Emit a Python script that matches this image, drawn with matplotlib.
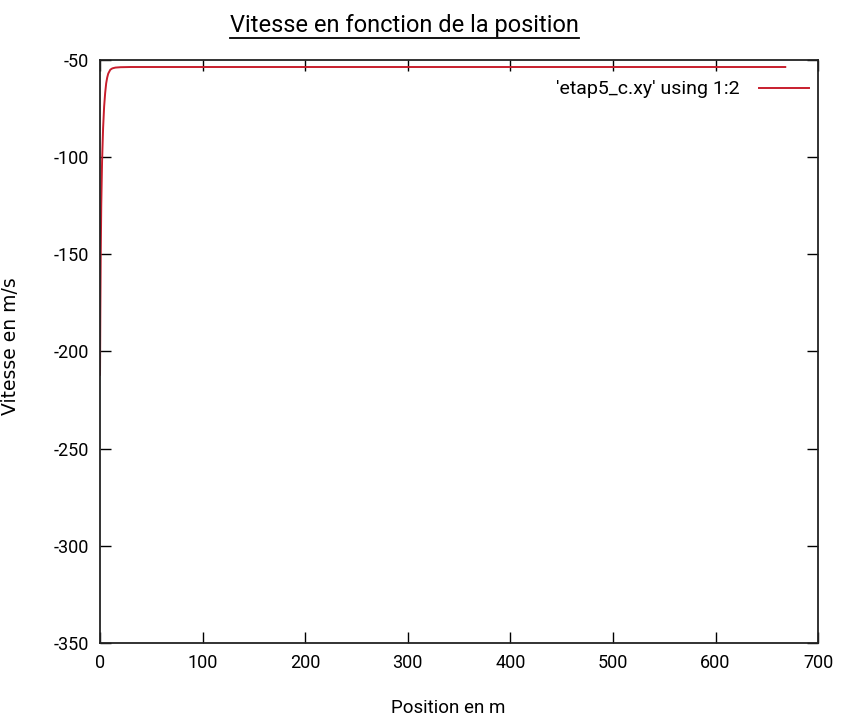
import matplotlib
matplotlib.use("Agg")
import matplotlib.pyplot as plt

plt.rcParams['axes.unicode_minus'] = False

# position (m) and speed (m/s)
position = [0, 0.3, 0.7, 1.2, 2, 3, 4, 5, 6, 7, 8, 10, 12, 15, 20, 30, 60, 200, 400, 668]
vitesse = [-212, -180, -150, -125, -102, -85, -74, -67, -62, -59, -57, -55, -54.3, -53.9, -53.7, -53.6, -53.6, -53.6, -53.6, -53.6]

xticks = [0, 100, 200, 300, 400, 500, 600, 700]
yticks = [-350, -300, -250, -200, -150, -100, -50]

narrow = ['Roboto', 'DejaVu Sans']

fig = plt.figure(figsize=(8.52, 7.23), dpi=100)
ax = fig.add_axes([0.1174, 0.1107, 0.8428, 0.8063])

ax.plot(position, vitesse, color='#c81e2d', lw=1.4, label="'etap5_c.xy' using 1:2")
ax.set_xlim(0, 700)
ax.set_ylim(-350, -50)
ax.set_xticks(xticks)
ax.set_yticks(yticks)
ax.tick_params(direction='in', length=8, width=1, top=True, right=True, labelsize=13, pad=8)
for lab in ax.get_xticklabels() + ax.get_yticklabels():
    lab.set_family(narrow)
for s in ax.spines.values():
    s.set_linewidth(1.3)
    s.set_color('#222222')

leg = ax.legend(loc='upper right', frameon=False, markerfirst=False, handlelength=2.6,
                prop={'family': narrow, 'size': 14}, bbox_to_anchor=(1.012, 0.995), handletextpad=1.0)

ax.set_xlabel('Position en m', fontsize=13.5, family=narrow)
ax.set_ylabel('Vitesse en m/s', fontsize=13.5, family='DejaVu Sans')
ax.xaxis.set_label_coords(0.485, -0.096)
ax.yaxis.set_label_coords(-0.111, 0.51)

t = fig.text(0.475, 0.965, 'Vitesse en fonction de la position', ha='center', va='center',
             fontsize=17, family=narrow)
fig.canvas.draw()
bb = t.get_window_extent().transformed(fig.transFigure.inverted())
fig.add_artist(plt.Line2D([bb.x0, bb.x1], [bb.y0 - 0.002, bb.y0 - 0.002], color='black', lw=1.3))

fig.savefig('out.png', dpi=100)
